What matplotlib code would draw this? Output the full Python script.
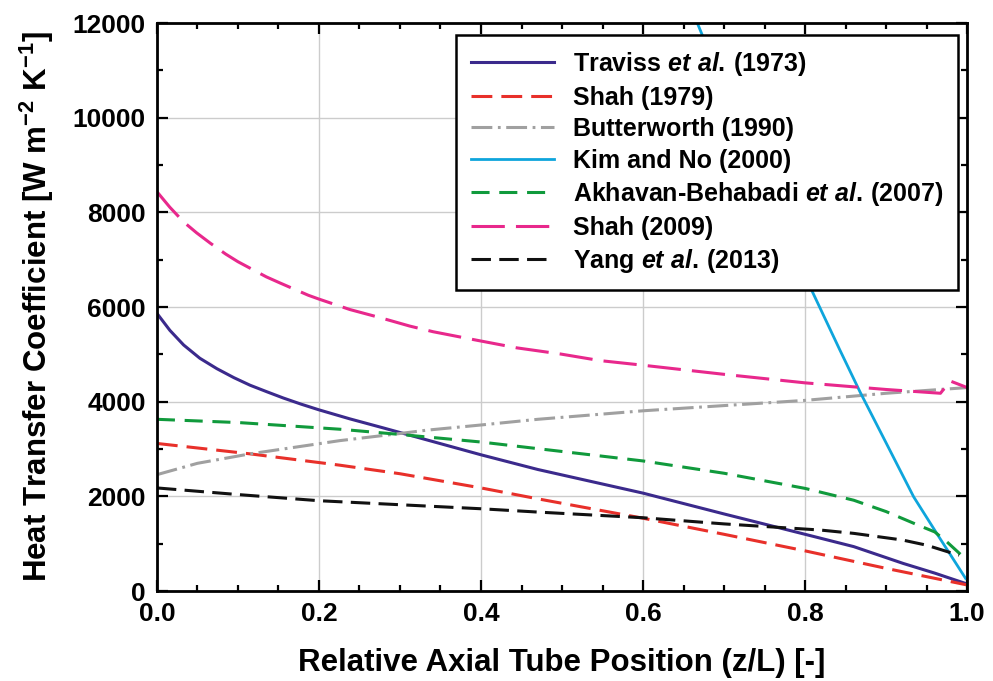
import matplotlib
matplotlib.use("Agg")
import matplotlib.pyplot as plt
from matplotlib.ticker import MultipleLocator

plt.rcParams["font.family"] = ["Liberation Sans", "DejaVu Sans"]
plt.rcParams["font.weight"] = "bold"
plt.rcParams["mathtext.fontset"] = "custom"
plt.rcParams["mathtext.rm"] = "Liberation Sans:bold"
plt.rcParams["mathtext.it"] = "Liberation Sans:italic:bold"
plt.rcParams["mathtext.bf"] = "Liberation Sans:bold"
plt.rcParams["lines.scale_dashes"] = False

# данные (z/L и коэффициент теплоотдачи, Вт/м2К)
traviss_x = [0.0, 0.016, 0.033, 0.053, 0.074, 0.095, 0.115, 0.136, 0.156, 0.178, 0.2, 0.238, 0.279, 0.4, 0.47, 0.6, 0.7, 0.8, 0.86, 0.921, 0.96, 1.0]
traviss_y = [5870, 5510, 5200, 4920, 4700, 4510, 4350, 4210, 4080, 3950, 3830, 3640, 3450, 2880, 2570, 2070, 1630, 1200, 940, 585, 380, 150]

shah79_x = [0.0, 0.115, 0.226, 0.3, 0.4, 0.47, 0.6, 0.7, 0.8, 0.9, 1.0]
shah79_y = [3120, 2900, 2660, 2480, 2180, 1950, 1540, 1200, 850, 480, 130]

butter_x = [0.0, 0.05, 0.115, 0.226, 0.3, 0.333, 0.4, 0.47, 0.6, 0.7, 0.8, 0.9, 1.0]
butter_y = [2460, 2700, 2900, 3180, 3330, 3400, 3510, 3630, 3810, 3920, 4030, 4180, 4300]

kim_x = [0.65, 0.667, 0.72, 0.808, 0.843, 0.868, 0.9, 0.934, 0.965, 0.998]
kim_y = [12700, 12000, 9800, 6360, 5090, 4200, 3130, 1990, 1150, 270]

akh_x = [0.0, 0.102, 0.226, 0.3, 0.4, 0.47, 0.6, 0.7, 0.8, 0.86, 0.9, 0.94, 0.96, 0.975, 0.996]
akh_y = [3630, 3560, 3420, 3310, 3150, 3010, 2750, 2490, 2170, 1920, 1680, 1390, 1250, 1040, 710]

shah09_x = [0.0, 0.016, 0.033, 0.049, 0.066, 0.085, 0.1, 0.135, 0.152, 0.187, 0.2, 0.238, 0.275, 0.312,
            0.341, 0.395, 0.444, 0.498, 0.547, 0.596, 0.7, 0.8, 0.9, 0.967, 0.979, 1.0]
shah09_y = [8440, 8110, 7800, 7570, 7350, 7120, 6960, 6640, 6510, 6250, 6170, 5950, 5780, 5600,
            5480, 5300, 5140, 5010, 4870, 4780, 4580, 4400, 4260, 4180, 4440, 4300]

yang_x = [0.0, 0.1, 0.2, 0.4, 0.47, 0.6, 0.7, 0.819, 0.86, 0.92, 0.95, 0.98, 0.99]
yang_y = [2180, 2040, 1910, 1740, 1670, 1550, 1420, 1290, 1220, 1080, 970, 810, 760]

labels = [
    r"Traviss $\mathit{et\ al.}\,$(1973)",
    "Shah (1979)",
    "Butterworth (1990)",
    "Kim and No (2000)",
    r"Akhavan-Behabadi $\mathit{et\ al.}\,$(2007)",
    "Shah (2009)",
    r"Yang $\mathit{et\ al.}\,$(2013)",
]
series = [
    (traviss_x, traviss_y),
    (shah79_x, shah79_y),
    (butter_x, butter_y),
    (kim_x, kim_y),
    (akh_x, akh_y),
    (shah09_x, shah09_y),
    (yang_x, yang_y),
]

# стили линий (штрихи в пунктах, без масштабирования по толщине)
styles = [
    {"color": "#3b2a8c", "linestyle": "-", "linewidth": 2.2},
    {"color": "#e8302a", "dashes": (15, 6.5), "linewidth": 2.2},
    {"color": "#a0a0a0", "dashes": (15, 4, 2, 4), "linewidth": 2.2},
    {"color": "#0ea5dc", "linestyle": "-", "linewidth": 2.0},
    {"color": "#109a3c", "dashes": (13, 7), "linewidth": 2.2},
    {"color": "#e8288c", "dashes": (24, 8), "linewidth": 2.2},
    {"color": "#111111", "dashes": (14, 6), "linewidth": 2.2},
]

fig = plt.figure(figsize=(9.93, 6.81), dpi=100)
ax = fig.add_axes([0.158, 0.132, 0.816, 0.834])

for (x, y), lab, st in zip(series, labels, styles):
    ax.plot(x, y, label=lab, **st)

ax.set_xlim(0, 1)
ax.set_ylim(0, 12000)
ax.xaxis.set_major_locator(MultipleLocator(0.2))
ax.xaxis.set_minor_locator(MultipleLocator(0.05))
ax.yaxis.set_major_locator(MultipleLocator(2000))
ax.yaxis.set_minor_locator(MultipleLocator(1000))
ax.set_xticklabels([f"{v:.1f}" for v in ax.get_xticks()])
ax.tick_params(which="both", direction="in", top=True, right=True, width=1.6)
ax.tick_params(which="major", length=8, labelsize=19, pad=8)
ax.tick_params(which="minor", length=4.5)
for s in ax.spines.values():
    s.set_linewidth(2.0)
ax.grid(True, which="major", color="#cccccc", linewidth=1.0)
ax.set_axisbelow(True)

ax.set_xlabel("Relative Axial Tube Position (z/L) [-]", fontsize=22.5, fontweight="bold", labelpad=16)
ax.set_ylabel(r"Heat Transfer Coefficient [W m$^{\mathrm{-2}}$ K$^{\mathrm{-1}}$]",
              fontsize=22.5, fontweight="bold", labelpad=12)

leg = ax.legend(loc="upper right", bbox_to_anchor=(0.989, 0.979), fontsize=18,
                frameon=True, fancybox=False, framealpha=1, edgecolor="black",
                handlelength=3.3, handletextpad=0.75, labelspacing=0.3, borderpad=0.6,
                borderaxespad=0)
leg.get_frame().set_linewidth(1.8)
leg.set_zorder(5)

plt.savefig("out.png", dpi=100)
plt.close()
